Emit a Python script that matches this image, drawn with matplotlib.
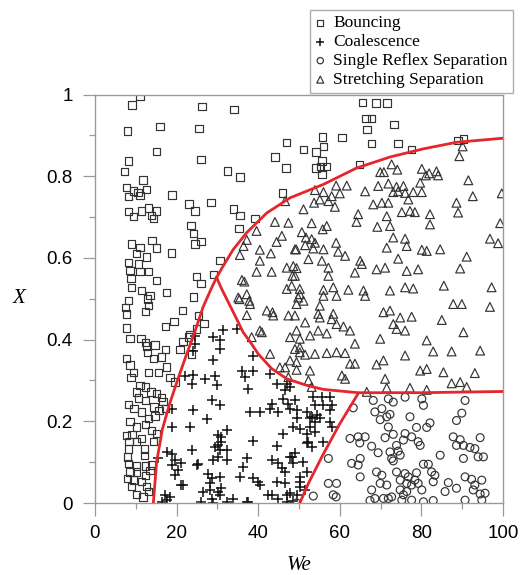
import numpy as np
import matplotlib
matplotlib.use("Agg")
import matplotlib.pyplot as plt
from matplotlib.ticker import MultipleLocator

# ---- data (We, X) ----
bouncing = [
    (11.0, 0.996), (9.1, 0.974), (26.2, 0.971), (34.1, 0.964), (7.9, 0.911), (15.9, 0.921),
    (25.5, 0.916), (15.1, 0.860), (8.2, 0.837), (26.0, 0.841), (47.0, 0.883), (44.1, 0.847),
    (46.8, 0.820), (32.5, 0.813), (35.5, 0.798), (7.2, 0.811), (11.8, 0.791), (7.8, 0.772),
    (9.4, 0.764), (10.5, 0.760), (12.7, 0.768), (8.2, 0.750), (11.0, 0.752), (18.9, 0.754),
    (23.0, 0.732), (24.5, 0.715), (28.4, 0.735), (33.9, 0.720), (35.5, 0.704), (46.0, 0.759),
    (39.2, 0.696), (35.3, 0.672), (8.2, 0.713), (9.4, 0.702), (11.4, 0.715), (13.1, 0.722),
    (13.9, 0.703), (15.1, 0.715), (14.3, 0.697), (23.5, 0.679), (24.1, 0.659), (24.5, 0.634),
    (26.0, 0.640), (9.0, 0.634), (11.0, 0.626), (10.2, 0.610), (14.0, 0.642), (15.1, 0.624),
    (18.8, 0.612), (30.6, 0.594), (29.0, 0.559), (8.2, 0.588), (10.6, 0.585), (12.7, 0.602),
    (8.6, 0.569), (11.0, 0.567), (13.1, 0.567), (15.1, 0.545), (24.9, 0.554), (8.8, 0.550),
    (9.0, 0.528), (11.4, 0.520), (13.5, 0.508), (17.6, 0.516), (26.0, 0.537), (24.1, 0.504),
    (65.6, 0.980), (68.9, 0.979), (71.6, 0.979), (66.4, 0.942), (67.8, 0.942), (66.7, 0.915),
    (73.3, 0.926), (55.7, 0.896), (60.5, 0.894), (67.8, 0.880), (74.3, 0.880), (51.1, 0.865),
    (54.2, 0.859), (56.0, 0.873), (77.6, 0.865), (55.6, 0.837), (54.2, 0.820), (55.3, 0.824),
    (56.8, 0.824), (55.6, 0.804), (64.8, 0.829), (89.0, 0.888), (90.3, 0.891),
    (8.2, 0.495), (7.5, 0.479), (7.8, 0.463), (12.9, 0.499), (13.1, 0.483), (12.3, 0.468),
    (21.5, 0.471), (19.4, 0.444), (17.2, 0.432), (7.8, 0.428), (25.3, 0.459), (26.7, 0.440),
    (23.3, 0.412), (24.9, 0.426), (8.6, 0.402), (11.3, 0.403), (12.3, 0.393), (12.7, 0.384),
    (14.7, 0.387), (12.9, 0.369), (22.9, 0.406), (21.6, 0.395), (20.8, 0.376), (17.3, 0.376),
    (23.7, 0.365), (14.3, 0.353), (16.3, 0.357), (17.6, 0.333), (15.5, 0.320), (13.1, 0.319),
    (7.8, 0.353), (8.6, 0.338), (9.4, 0.320), (8.8, 0.308), (18.4, 0.308), (19.6, 0.296),
    (11.0, 0.288), (12.3, 0.284), (10.2, 0.272), (13.7, 0.272), (15.1, 0.268), (16.3, 0.259),
    (10.6, 0.257), (12.3, 0.251), (16.7, 0.249), (8.2, 0.241), (9.6, 0.231), (11.4, 0.223),
    (14.5, 0.235), (15.7, 0.227), (17.2, 0.231), (8.6, 0.200), (13.1, 0.207), (14.7, 0.213),
    (12.3, 0.192), (10.2, 0.186), (13.9, 0.178), (15.0, 0.170), (7.8, 0.166), (9.1, 0.168),
    (8.3, 0.150), (10.2, 0.150), (11.4, 0.158), (14.3, 0.151), (8.2, 0.132), (12.1, 0.132),
    (12.1, 0.117), (8.0, 0.113), (8.2, 0.097), (10.2, 0.091), (12.3, 0.091), (13.9, 0.093),
    (8.6, 0.076), (10.2, 0.076), (12.3, 0.068), (13.5, 0.080), (8.0, 0.060), (9.4, 0.056),
    (11.4, 0.052), (12.7, 0.040), (9.0, 0.040), (10.2, 0.021), (11.8, 0.015), (13.1, 0.028),
]

coalescence = [
    (24.5, 0.410), (24.1, 0.371), (22.1, 0.312), (24.1, 0.314), (23.7, 0.292), (27.0, 0.304),
    (18.9, 0.231), (24.1, 0.227), (18.8, 0.186), (23.3, 0.186), (17.6, 0.125), (18.8, 0.121),
    (15.5, 0.109), (19.6, 0.105), (23.7, 0.129), (18.8, 0.093), (20.4, 0.080), (19.6, 0.068),
    (24.9, 0.093), (21.6, 0.044), (17.2, 0.020), (18.4, 0.015), (17.6, 0.007), (16.3, 0.003),
    (31.3, 0.424), (29.0, 0.406), (30.6, 0.398), (34.7, 0.426), (30.6, 0.377), (29.0, 0.349),
    (36.0, 0.324), (29.4, 0.312), (36.8, 0.308), (29.8, 0.288), (37.6, 0.280), (38.8, 0.361),
    (42.9, 0.316), (44.7, 0.292), (47.1, 0.292), (46.6, 0.276), (46.1, 0.255), (28.6, 0.251),
    (30.6, 0.239), (38.0, 0.223), (40.4, 0.223), (42.9, 0.231), (43.3, 0.243), (44.9, 0.223),
    (47.4, 0.243), (47.8, 0.231), (27.4, 0.205), (49.4, 0.227), (51.9, 0.223), (52.7, 0.207),
    (53.9, 0.198), (50.2, 0.182), (51.9, 0.170), (32.3, 0.178), (30.2, 0.166), (31.0, 0.150),
    (29.4, 0.137), (30.6, 0.129), (38.8, 0.151), (46.1, 0.170), (52.3, 0.150), (53.1, 0.137),
    (44.5, 0.140), (48.2, 0.113), (29.0, 0.105), (30.2, 0.113), (32.3, 0.105), (37.2, 0.111),
    (43.3, 0.105), (44.9, 0.097), (45.8, 0.085), (46.6, 0.076), (51.1, 0.101), (36.3, 0.089),
    (27.8, 0.072), (28.6, 0.062), (30.6, 0.064), (35.5, 0.064), (38.8, 0.060), (40.0, 0.052),
    (40.4, 0.044), (44.5, 0.052), (51.9, 0.076), (50.2, 0.052), (26.5, 0.028), (28.2, 0.032),
    (31.0, 0.036), (30.6, 0.020), (28.6, 0.011), (26.1, 0.003), (29.0, 0.000), (33.9, 0.010),
    (37.6, 0.003), (42.5, 0.020), (43.3, 0.020), (44.9, 0.011), (47.0, 0.020), (47.0, 0.003),
    (48.6, 0.005), (47.8, 0.284), (49.0, 0.251), (53.5, 0.259), (55.6, 0.259), (57.6, 0.259),
    (53.9, 0.239), (56.0, 0.239), (58.0, 0.239), (57.6, 0.227), (54.3, 0.215), (53.1, 0.211),
    (55.1, 0.207), (49.4, 0.207), (48.6, 0.186), (52.7, 0.186), (53.9, 0.174), (57.6, 0.198),
    (58.0, 0.186), (51.9, 0.146), (56.0, 0.150), (49.0, 0.122), (48.6, 0.097), (50.2, 0.064),
    (47.8, 0.024), (49.4, 0.020), (51.5, 0.032), (21.2, 0.097), (25.3, 0.095), (21.2, 0.044),
    (32.3, 0.003), (37.2, 0.003), (28.2, 0.048), (30.2, 0.028), (46.6, 0.048), (47.8, 0.113),
    (50.2, 0.040), (38.8, 0.324), (31.0, 0.162), (30.2, 0.141), (32.3, 0.129), (24.5, 0.390),
]

reflex = [
    (68.2, 0.251), (71.9, 0.255), (73.1, 0.247), (76.0, 0.259), (80.1, 0.255), (80.5, 0.239),
    (90.7, 0.251), (63.3, 0.233), (70.3, 0.231), (68.6, 0.223), (71.5, 0.211), (72.3, 0.217),
    (77.2, 0.211), (82.1, 0.196), (89.9, 0.220), (88.6, 0.202), (69.9, 0.204), (71.9, 0.186),
    (78.8, 0.185), (81.3, 0.185), (76.0, 0.170), (73.1, 0.168), (71.1, 0.160), (62.5, 0.158),
    (64.5, 0.162), (66.2, 0.162), (64.9, 0.147), (75.6, 0.154), (77.6, 0.162), (79.2, 0.150),
    (79.7, 0.141), (87.8, 0.162), (89.5, 0.155), (88.6, 0.141), (90.3, 0.141), (94.4, 0.160),
    (91.9, 0.136), (93.1, 0.133), (67.8, 0.139), (69.4, 0.123), (72.3, 0.125), (73.9, 0.141),
    (74.3, 0.127), (74.8, 0.117), (72.7, 0.109), (73.1, 0.103), (80.5, 0.095), (81.7, 0.095),
    (84.6, 0.117), (90.3, 0.109), (93.9, 0.113), (62.9, 0.097), (64.5, 0.093), (65.0, 0.109),
    (57.2, 0.109), (69.0, 0.076), (70.3, 0.068), (73.9, 0.076), (76.0, 0.072), (76.8, 0.064),
    (78.8, 0.074), (78.4, 0.056), (79.2, 0.048), (82.5, 0.076), (83.3, 0.068), (82.9, 0.052),
    (69.9, 0.048), (71.5, 0.044), (74.8, 0.056), (76.4, 0.048), (77.6, 0.044), (86.6, 0.050),
    (90.7, 0.064), (92.3, 0.058), (94.8, 0.056), (93.1, 0.044), (65.0, 0.064), (57.2, 0.048),
    (59.2, 0.048), (59.1, 0.015), (53.5, 0.017), (67.8, 0.032), (68.6, 0.011), (67.4, 0.006),
    (70.7, 0.011), (71.9, 0.011), (72.7, 0.015), (74.8, 0.032), (75.6, 0.020), (76.4, 0.028),
    (75.2, 0.007), (77.6, 0.007), (80.1, 0.032), (80.5, 0.003), (82.9, 0.006), (85.8, 0.028),
    (88.6, 0.036), (90.7, 0.007), (92.7, 0.032), (94.4, 0.022), (95.6, 0.024), (94.8, 0.007),
    (49.4, 0.000), (58.4, 0.020), (95.2, 0.113),
]

stretching = [
    (44.1, 0.688), (47.4, 0.686), (39.6, 0.666), (45.8, 0.654), (44.5, 0.639), (37.2, 0.644),
    (36.4, 0.629), (40.4, 0.620), (43.1, 0.611), (35.5, 0.607), (40.4, 0.593), (43.3, 0.566),
    (39.6, 0.566), (36.0, 0.546), (36.6, 0.542), (47.0, 0.576), (47.0, 0.524), (37.2, 0.511),
    (46.6, 0.739), (49.3, 0.621), (48.6, 0.580), (49.4, 0.575), (48.4, 0.556), (35.1, 0.503),
    (49.8, 0.503), (90.1, 0.873), (89.3, 0.849), (72.7, 0.829), (69.9, 0.810), (70.8, 0.810),
    (74.1, 0.816), (80.1, 0.818), (81.9, 0.807), (83.7, 0.812), (84.1, 0.802), (81.1, 0.802),
    (79.7, 0.784), (91.5, 0.790), (59.1, 0.777), (61.7, 0.777), (66.2, 0.763), (69.4, 0.776),
    (71.9, 0.782), (73.9, 0.774), (75.6, 0.776), (73.1, 0.761), (74.3, 0.763), (76.0, 0.759),
    (78.0, 0.761), (80.1, 0.761), (76.8, 0.743), (56.0, 0.761), (53.9, 0.766), (58.0, 0.751),
    (60.0, 0.758), (55.1, 0.743), (57.2, 0.739), (58.8, 0.725), (53.7, 0.735), (51.1, 0.719),
    (68.2, 0.731), (70.3, 0.735), (71.9, 0.735), (71.5, 0.702), (75.2, 0.712), (77.2, 0.715),
    (78.4, 0.712), (82.1, 0.707), (88.6, 0.735), (89.0, 0.711), (92.6, 0.751), (99.7, 0.758),
    (64.5, 0.707), (64.1, 0.688), (82.1, 0.682), (99.3, 0.685), (53.1, 0.685), (55.8, 0.670),
    (56.8, 0.678), (50.7, 0.663), (69.2, 0.676), (72.3, 0.678), (51.7, 0.650), (53.1, 0.646),
    (53.9, 0.637), (53.5, 0.623), (51.5, 0.631), (49.0, 0.621), (56.0, 0.621), (59.1, 0.637),
    (59.6, 0.615), (61.3, 0.605), (73.1, 0.650), (76.0, 0.647), (76.4, 0.629), (71.5, 0.625),
    (80.1, 0.620), (81.3, 0.617), (84.6, 0.621), (96.8, 0.647), (98.8, 0.636), (91.1, 0.603),
    (49.0, 0.556), (52.3, 0.597), (55.6, 0.593), (57.2, 0.576), (65.0, 0.593), (65.4, 0.585),
    (69.0, 0.572), (71.1, 0.576), (74.3, 0.598), (76.4, 0.568), (79.2, 0.572), (89.5, 0.574),
    (57.2, 0.556), (63.7, 0.564), (48.2, 0.532), (50.2, 0.524), (56.0, 0.522), (58.4, 0.528),
    (62.1, 0.522), (65.8, 0.520), (72.3, 0.520), (76.0, 0.528), (78.0, 0.525), (85.5, 0.532),
    (97.2, 0.528), (50.2, 0.511), (49.4, 0.487), (55.1, 0.483), (56.0, 0.507), (59.2, 0.507),
    (66.2, 0.507), (87.8, 0.487), (89.9, 0.487), (96.8, 0.480), (49.0, 0.459), (51.5, 0.442),
    (54.7, 0.463), (55.1, 0.454), (58.4, 0.463), (58.0, 0.450), (59.2, 0.438), (60.9, 0.432),
    (62.5, 0.422), (49.4, 0.422), (52.7, 0.410), (54.7, 0.422), (56.8, 0.415), (70.7, 0.467),
    (72.3, 0.471), (74.8, 0.454), (77.6, 0.456), (73.1, 0.438), (73.9, 0.426), (76.0, 0.422),
    (85.0, 0.448), (90.3, 0.418), (69.9, 0.402), (81.3, 0.398), (63.7, 0.390), (49.0, 0.377),
    (50.2, 0.369), (51.5, 0.363), (53.9, 0.365), (56.8, 0.367), (59.2, 0.369), (61.3, 0.367),
    (47.8, 0.349), (49.4, 0.345), (62.5, 0.341), (63.7, 0.341), (69.0, 0.339), (70.7, 0.349),
    (76.0, 0.361), (82.9, 0.371), (87.4, 0.371), (94.4, 0.373), (79.7, 0.324), (81.3, 0.328),
    (85.4, 0.320), (93.1, 0.318), (49.4, 0.326), (52.7, 0.324), (60.5, 0.312), (61.3, 0.304),
    (71.1, 0.304), (71.5, 0.282), (52.3, 0.300), (53.1, 0.284), (66.6, 0.272), (77.2, 0.282),
    (81.3, 0.277), (87.4, 0.293), (89.5, 0.296), (91.1, 0.284), (35.4, 0.499), (37.8, 0.495),
    (37.2, 0.460), (42.1, 0.471), (43.5, 0.467), (40.4, 0.422), (38.4, 0.406), (42.9, 0.365),
    (45.3, 0.332), (46.6, 0.332), (47.4, 0.308), (51.1, 0.495), (47.4, 0.459), (47.8, 0.406),
    (50.2, 0.402), (50.2, 0.381), (38.0, 0.487), (40.9, 0.418), (43.7, 0.459),
]

# regime boundaries (red lines)
b_left = [(14.3, 0.0), (15.1, 0.10), (16.5, 0.18), (18.2, 0.24), (20.2, 0.30), (22.3, 0.36),
          (24.5, 0.42), (26.5, 0.48), (28.5, 0.525), (29.8, 0.552)]
b_upper = [(29.8, 0.552), (31.4, 0.58), (33.9, 0.621), (37.2, 0.662), (42.1, 0.71),
           (47.8, 0.747), (56.0, 0.780), (64.1, 0.820), (72.3, 0.847), (80.5, 0.867),
           (88.6, 0.883), (100.0, 0.893)]
b_mid = [(29.8, 0.552), (31.0, 0.525), (32.3, 0.499), (34.5, 0.455), (36.3, 0.418), (38.0, 0.395),
         (40.0, 0.365), (43.3, 0.329), (47.0, 0.304), (51.9, 0.288), (56.0, 0.278), (64.5, 0.270),
         (80.0, 0.270), (100.0, 0.273)]
b_low = [(50.2, 0.0), (52.4, 0.05), (55.6, 0.113), (60.0, 0.194), (64.5, 0.268)]

legend_labels = ["Bouncing", "Coalescence", "Single Reflex Separation", "Stretching Separation"]

# ---- figure ----
fig = plt.figure(figsize=(5.23, 5.75), dpi=100)
ax = fig.add_axes([95 / 523, 72 / 575, 408 / 523, 408.5 / 575])

edge = "#333333"
red = "#e5262b"

for seg in (b_left, b_upper, b_mid, b_low):
    s = np.array(seg)
    ax.plot(s[:, 0], s[:, 1], color=red, lw=2.0, zorder=3)

b = np.array(bouncing)
c = np.array(coalescence)
r = np.array(reflex)
t = np.array(stretching)
h1 = ax.scatter(b[:, 0], b[:, 1], marker="s", s=28, facecolors="none", edgecolors=edge, linewidths=0.85)
h2 = ax.scatter(c[:, 0], c[:, 1], marker="+", s=48, color="#111111", linewidths=1.1)
h3 = ax.scatter(r[:, 0], r[:, 1], marker="o", s=32, facecolors="none", edgecolors=edge, linewidths=0.85)
h4 = ax.scatter(t[:, 0], t[:, 1], marker="^", s=40, facecolors="none", edgecolors=edge, linewidths=0.85)

ax.set_xlim(0, 100)
ax.set_ylim(0, 1)
ax.xaxis.set_major_locator(MultipleLocator(20))
ax.xaxis.set_minor_locator(MultipleLocator(10))
ax.yaxis.set_major_locator(MultipleLocator(0.2))
ax.yaxis.set_minor_locator(MultipleLocator(0.1))
ax.set_yticks([0, 0.2, 0.4, 0.6, 0.8, 1.0])
ax.set_yticklabels(["0", "0.2", "0.4", "0.6", "0.8", "1"])

gray = "#9a9a9a"
for sp in ax.spines.values():
    sp.set_color(gray)
    sp.set_linewidth(1.0)
ax.tick_params(which="major", length=9, width=0.9, color=gray, pad=7,
               labelsize=13.5, direction="out")
ax.tick_params(which="minor", length=4.5, width=0.9, color=gray, direction="out")
for lab in ax.get_xticklabels() + ax.get_yticklabels():
    lab.set_fontfamily("Liberation Sans")

ax.set_xlabel("We", fontfamily="Liberation Serif", style="italic", fontsize=15, labelpad=10)
ax.set_ylabel("X", fontfamily="Liberation Serif", style="italic", fontsize=15, rotation=0,
              labelpad=20, va="center")

leg = fig.legend([h1, h2, h3, h4], legend_labels, loc="upper right",
                 bbox_to_anchor=(513 / 523, 1 - 10 / 575),
                 prop={"family": "Liberation Serif", "size": 12.5},
                 frameon=True, fancybox=False, edgecolor=gray, markerscale=0.8,
                 handlelength=0.6, handletextpad=0.45, labelspacing=0.16,
                 borderpad=0.3, borderaxespad=0)
leg.get_frame().set_linewidth(1.0)

fig.savefig("out.png", dpi=100)
